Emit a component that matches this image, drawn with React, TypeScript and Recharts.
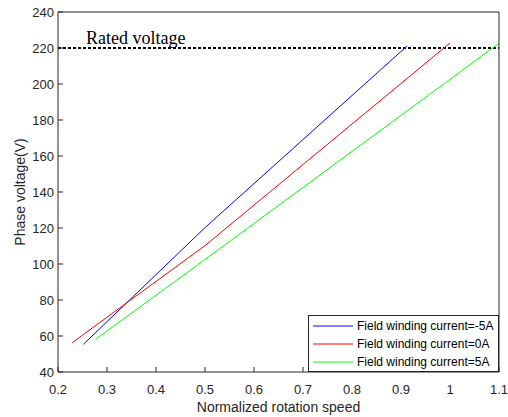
import { LineChart, Line, XAxis, YAxis, ReferenceLine } from 'recharts';

const xTicks = [0.2, 0.3, 0.4, 0.5, 0.6, 0.7, 0.8, 0.9, 1, 1.1];
const yTicks = [40, 60, 80, 100, 120, 140, 160, 180, 200, 220, 240];

// normalized speed / phase voltage for each field current
const speedNeg5 = [0.252, 0.5, 0.912];
const voltNeg5 = [55.4, 120.2, 221];
const speed0 = [0.229, 0.5, 1.0];
const volt0 = [56.3, 110.2, 222.8];
const speed5 = [0.277, 0.5, 1.1];
const volt5 = [58.2, 102.5, 222.6];

const ratedVoltage = 220;

const toPoints = (xs: number[], ys: number[]) => xs.map((x, i) => ({ speed: x, volt: ys[i] }));

const series = [
  { name: 'Field winding current=-5A', color: '#0000ff', data: toPoints(speedNeg5, voltNeg5) },
  { name: 'Field winding current=0A', color: '#ff0000', data: toPoints(speed0, volt0) },
  { name: 'Field winding current=5A', color: '#00ff00', data: toPoints(speed5, volt5) },
];

const axisColor = '#262626';
const font = 'Arial, "Liberation Sans", sans-serif';

function LegendBox() {
  return (
    <div
      style={{
        position: 'absolute',
        left: 308,
        top: 315,
        width: 189,
        height: 54,
        border: `1px solid ${axisColor}`,
        background: '#fff',
        fontFamily: font,
        fontSize: 12,
        color: '#000',
        paddingTop: 1,
        boxSizing: 'content-box',
      }}
    >
      {series.map((s) => (
        <div key={s.name} style={{ display: 'flex', alignItems: 'center', height: 18 }}>
          <svg width={48} height={18} style={{ flex: 'none' }}>
            <line x1={4} x2={44} y1={9} y2={9} stroke={s.color} strokeWidth={1} />
          </svg>
          <span style={{ whiteSpace: 'nowrap' }}>{s.name}</span>
        </div>
      ))}
    </div>
  );
}

export default function App() {
  return (
    <div style={{ position: 'absolute', left: 0, top: 0, width: 508, height: 417, background: '#fff' }}>
      <LineChart width={508} height={417} margin={{ top: 11, right: 8, bottom: 0, left: 0 }}>
        <XAxis
          xAxisId="b"
          type="number"
          dataKey="speed"
          domain={[0.2, 1.1]}
          ticks={xTicks}
          allowDataOverflow
          height={45}
          stroke={axisColor}
          tickSize={-5}
          tickMargin={18}
          tick={{ fill: axisColor, fontSize: 13, fontFamily: font }}
          label={{ value: 'Normalized rotation speed', position: 'insideBottom', offset: 5, fill: axisColor, fontSize: 14, fontFamily: font }}
        />
        <XAxis
          xAxisId="t"
          orientation="top"
          type="number"
          dataKey="speed"
          domain={[0.2, 1.1]}
          ticks={xTicks}
          allowDataOverflow
          height={1}
          stroke={axisColor}
          tickSize={-5}
          tick={false}
        />
        <YAxis
          yAxisId="l"
          type="number"
          domain={[40, 240]}
          ticks={yTicks}
          width={58}
          stroke={axisColor}
          tickSize={-5}
          tickMargin={9}
          tick={{ fill: axisColor, fontSize: 13, fontFamily: font }}
          label={{ value: 'Phase voltage(V)', angle: -90, position: 'insideLeft', offset: 20, style: { textAnchor: 'middle' }, fill: axisColor, fontSize: 14, fontFamily: font }}
        />
        <YAxis
          yAxisId="r"
          orientation="right"
          type="number"
          domain={[40, 240]}
          ticks={yTicks}
          width={1}
          stroke={axisColor}
          tickSize={-5}
          tick={false}
        />
        <ReferenceLine
          xAxisId="b"
          yAxisId="l"
          y={ratedVoltage}
          stroke="#000"
          strokeWidth={2}
          strokeDasharray="3 2"
          label={{ value: 'Rated voltage', position: 'insideTopLeft', offset: 0, dx: 28, dy: -17, fill: '#000', fontSize: 18, fontFamily: '"Liberation Serif", "Times New Roman", serif' }}
        />
        {series.map((s) => (
          <Line
            key={s.name}
            xAxisId="b"
            yAxisId="l"
            data={s.data}
            dataKey="volt"
            name={s.name}
            type="linear"
            stroke={s.color}
            strokeWidth={1}
            dot={false}
            isAnimationActive={false}
          />
        ))}
      </LineChart>
      <LegendBox />
    </div>
  );
}
